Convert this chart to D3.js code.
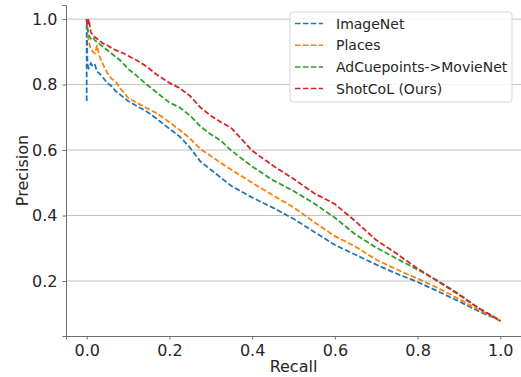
<!DOCTYPE html>
<html>
<head>
<meta charset="utf-8">
<script src="https://cdn.jsdelivr.net/npm/d3@7"></script>
<style>
  html, body { margin: 0; padding: 0; background: #fff; }
  svg { display: block; font-family: "DejaVu Sans", sans-serif; }
</style>
</head>
<body>
<div id="chart"></div>
<script>
// PR curves
const recall = [0, 0, 0.002, 0.005, 0.01, 0.015, 0.02, 0.025, 0.03, 0.04, 0.05, 0.06, 0.07, 0.08, 0.09, 0.1,
  0.12, 0.145, 0.17, 0.2, 0.225, 0.25, 0.275, 0.3, 0.325, 0.35, 0.4, 0.45, 0.5, 0.55, 0.6, 0.65, 0.7,
  0.75, 0.8, 0.85, 0.9, 0.95, 0.98, 1.0];
const imagenet = [0.75, 1.0, 0.86, 0.85, 0.865, 0.855, 0.86, 0.84, 0.835, 0.82, 0.805, 0.795, 0.78, 0.77, 0.76, 0.75,
  0.735, 0.718, 0.695, 0.665, 0.641, 0.607, 0.565, 0.54, 0.515, 0.49, 0.455, 0.424, 0.39, 0.35, 0.31, 0.28, 0.25,
  0.222, 0.197, 0.168, 0.138, 0.106, 0.09, 0.078];
const places = [1.0, 1.0, 0.97, 0.93, 0.91, 0.9, 0.895, 0.92, 0.89, 0.86, 0.835, 0.818, 0.81, 0.79, 0.775, 0.76,
  0.745, 0.728, 0.712, 0.685, 0.661, 0.635, 0.603, 0.582, 0.56, 0.54, 0.5, 0.462, 0.425, 0.38, 0.337, 0.305, 0.265,
  0.235, 0.207, 0.178, 0.145, 0.11, 0.093, 0.078];
const adcue = [1.0, 1.0, 0.97, 0.95, 0.94, 0.945, 0.935, 0.93, 0.925, 0.915, 0.905, 0.895, 0.885, 0.875, 0.862, 0.848,
  0.828, 0.8, 0.775, 0.745, 0.73, 0.705, 0.672, 0.648, 0.628, 0.598, 0.55, 0.508, 0.475, 0.437, 0.393, 0.342, 0.302,
  0.268, 0.235, 0.2, 0.16, 0.115, 0.094, 0.078];
const shotcol = [1.0, 1.0, 0.98, 1.0, 0.96, 0.95, 0.945, 0.94, 0.935, 0.925, 0.92, 0.912, 0.905, 0.9, 0.895, 0.888,
  0.875, 0.855, 0.83, 0.805, 0.789, 0.765, 0.73, 0.705, 0.685, 0.667, 0.598, 0.553, 0.512, 0.468, 0.435, 0.382, 0.325,
  0.283, 0.238, 0.198, 0.158, 0.115, 0.094, 0.078];

const seriesNames = ["ImageNet", "Places", "AdCuepoints->MovieNet", "ShotCoL (Ours)"];
const seriesVals = [imagenet, places, adcue, shotcol];
const colors = ["#1f77b4", "#ff7f0e", "#2ca02c", "#d62728"];
const xTicks = [0, 0.2, 0.4, 0.6, 0.8, 1.0];
const yTicks = [0.2, 0.4, 0.6, 0.8, 1.0];

const W = 521, H = 377;
const m = { top: 5, right: 0, bottom: 41, left: 66 };

const svg = d3.select("#chart").append("svg").attr("width", W).attr("height", H);

const x = d3.scaleLinear().domain([-0.05, 1.05]).range([m.left, W - m.right]);
const y = d3.scaleLinear().domain([0.032, 1.043]).range([H - m.bottom, m.top]);

// grid (y only)
svg.append("g").selectAll("line").data(yTicks).join("line")
  .attr("x1", m.left).attr("x2", W - m.right)
  .attr("y1", (d) => y(d)).attr("y2", (d) => y(d))
  .attr("stroke", "#b0b0b0").attr("stroke-width", 0.8);

const xAxis = svg.append("g").attr("transform", `translate(0,${H - m.bottom})`)
  .call(d3.axisBottom(x).tickValues(xTicks).tickFormat(d3.format(".1f")).tickSizeOuter(0).tickSize(3.5).tickPadding(5));
const yAxis = svg.append("g").attr("transform", `translate(${m.left},0)`)
  .call(d3.axisLeft(y).tickValues(yTicks).tickFormat(d3.format(".1f")).tickSizeOuter(0).tickSize(3.5).tickPadding(5));
for (const ax of [xAxis, yAxis]) {
  ax.select(".domain").attr("stroke", "#6e6e6e").attr("stroke-width", 1);
  ax.selectAll(".tick line").attr("stroke", "#6e6e6e");
  ax.selectAll(".tick text").attr("fill", "#262626").style("font-size", "16px").style("font-family", "DejaVu Sans");
}

svg.append("text").attr("x", (m.left + W - m.right) / 2).attr("y", 372)
  .attr("text-anchor", "middle").attr("fill", "#262626").style("font-size", "16px").text("Recall");
svg.append("text").attr("transform", `translate(28,${(m.top + H - m.bottom) / 2}) rotate(-90)`)
  .attr("text-anchor", "middle").attr("fill", "#262626").style("font-size", "16px").text("Precision");

const line = d3.line().x((d) => x(d[0])).y((d) => y(d[1]));
const gLines = svg.append("g");
seriesVals.forEach((vals, i) => {
  gLines.append("path").datum(recall.map((r, j) => [r, vals[j]]))
    .attr("d", line).attr("fill", "none")
    .attr("stroke", colors[i]).attr("stroke-width", 1.8)
    .attr("stroke-dasharray", "5.5,2.4");
});

// legend
const lg = svg.append("g").attr("transform", "translate(290,12)");
lg.append("rect").attr("width", 222).attr("height", 90).attr("rx", 3)
  .attr("fill", "#fff").attr("fill-opacity", 0.85).attr("stroke", "#d6d6d6");
seriesNames.forEach((name, i) => {
  const cy = 11.5 + i * 21.7;
  lg.append("line").attr("x1", 5).attr("x2", 33).attr("y1", cy).attr("y2", cy)
    .attr("stroke", colors[i]).attr("stroke-width", 1.5).attr("stroke-dasharray", "5.5,2.4");
  lg.append("text").attr("x", 46).attr("y", cy + 5).attr("fill", "#262626")
    .style("font-size", "14px").text(name);
});
</script>
</body>
</html>
